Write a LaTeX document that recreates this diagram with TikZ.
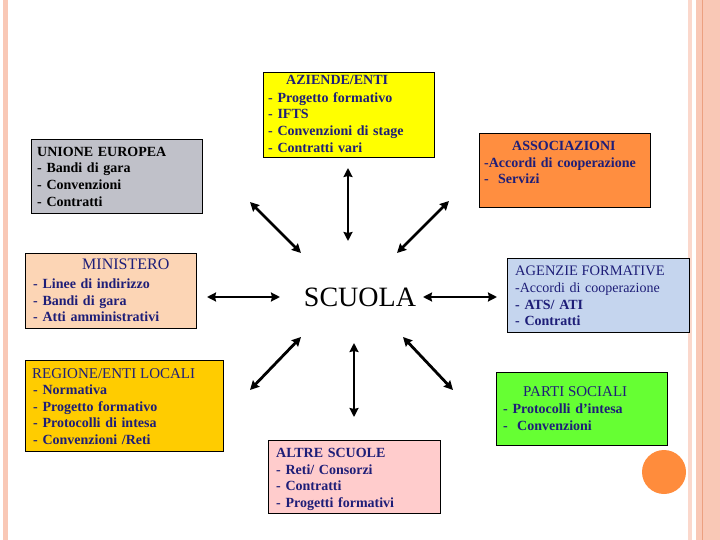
\documentclass[tikz,border=0pt]{standalone}
\usepackage{fontspec}
\setmainfont{Liberation Serif}
\usetikzlibrary{arrows.meta}

\definecolor{navy}{RGB}{30,30,120}
\definecolor{stripe}{RGB}{249,200,182}
\definecolor{stripedark}{RGB}{236,160,128}
\definecolor{ueGray}{RGB}{192,193,201}
\definecolor{minPeach}{RGB}{252,213,181}
\definecolor{aziYellow}{RGB}{255,255,0}
\definecolor{assOrange}{RGB}{255,142,64}
\definecolor{ageBlue}{RGB}{197,213,238}
\definecolor{regGold}{RGB}{255,204,0}
\definecolor{altPink}{RGB}{255,204,204}
\definecolor{parGreen}{RGB}{102,255,51}
\definecolor{dotOrange}{RGB}{255,140,60}

\begin{document}
\begin{tikzpicture}[x=1pt, y=-1pt,
    box/.style={draw=black, line width=0.8pt, anchor=north west, inner sep=0pt},
    txt/.style={anchor=north west, inner sep=0pt, align=left, text width=190pt,
        text=navy, font=\bfseries\fontsize{14}{16.8}\selectfont},
    ttl/.style={anchor=base west, inner sep=0pt, text=navy},
    link/.style={line width=2.8pt, <->, >={Stealth[length=9pt, width=9pt, inset=1pt]}}]
    \useasboundingbox (0,0) rectangle (720,540);
    \fill[white] (0,0) rectangle (720,540);
    % page border stripes
    \fill[stripe] (3,0) rectangle (8,540);
    \fill[stripe!70] (688,0) rectangle (691.5,540);
    \fill[stripe] (696,0) rectangle (720,540);
    \fill[stripedark] (701.5,0) rectangle (703,540);
    \fill[dotOrange] (664,472) circle (22);

    % boxes
    \node[box, fill=ueGray, minimum width=171, minimum height=74] (ue) at (31,139) {};
    \node[txt, text=black] (ueT) at (37,144.24) {\strut UNIONE EUROPEA\\- Bandi di gara\\- Convenzioni\\- Contratti};

    \node[box, fill=minPeach, minimum width=171, minimum height=75] (min) at (25,253) {};
    \node[ttl, font=\fontsize{16}{19}\selectfont] (minT) at (82,269) {MINISTERO};
    \node[txt] (minL) at (33,276.24) {\strut - Linee di indirizzo\\- Bandi di gara\\- Atti amministrativi};

    \node[box, fill=aziYellow, minimum width=171, minimum height=85] (azi) at (263,72) {};
    \node[ttl, font=\bfseries\fontsize{14}{16.8}\selectfont] (aziT) at (286,85) {AZIENDE/ENTI};
    \node[txt, font=\bfseries\fontsize{14}{16.7}\selectfont] (aziL) at (268,90.24) {\strut - Progetto formativo\\- IFTS\\- Convenzioni di stage\\- Contratti vari};

    \node[box, fill=assOrange, minimum width=171, minimum height=74] (ass) at (479,133) {};
    \node[ttl, font=\bfseries\fontsize{14}{16.8}\selectfont] (assT) at (512,151) {ASSOCIAZIONI};
    \node[txt] (assL) at (484,155.24) {\strut -Accordi di cooperazione\\-\ \ Servizi};

    \node[box, fill=ageBlue, minimum width=182, minimum height=74] (age) at (507,258) {};
    \node[ttl, font=\fontsize{14.5}{17}\selectfont] (ageT) at (515,275) {AGENZIE FORMATIVE};
    \node[txt] (ageL) at (515,280.24) {\strut{\mdseries -Accordi di cooperazione}\\- ATS/ ATI\\- Contratti};

    \node[box, fill=regGold, minimum width=198, minimum height=91] (reg) at (25,360) {};
    \node[ttl, font=\fontsize{15}{18}\selectfont] (regT) at (32,378) {REGIONE/ENTI LOCALI};
    \node[txt] (regL) at (33,382.24) {\strut - Normativa\\- Progetto formativo\\- Protocolli di intesa\\- Convenzioni /Reti};

    \node[box, fill=altPink, minimum width=172, minimum height=73] (alt) at (268,440) {};
    \node[txt] (altL) at (276,445.24) {\strut ALTRE SCUOLE\\- Reti/ Consorzi\\- Contratti\\- Progetti formativi};

    \node[box, fill=parGreen, minimum width=171, minimum height=73] (par) at (496,372) {};
    \node[ttl, font=\fontsize{15}{18}\selectfont] (parT) at (523,396) {PARTI SOCIALI};
    \node[txt] (parL) at (503,401.24) {\strut - Protocolli d’intesa\\-\ \ Convenzioni};

    % centre
    \node[anchor=base, inner sep=0pt, font=\fontsize{28}{32}\selectfont] (scuola) at (360,306) {SCUOLA};

    % double arrows round the centre
    \foreach \nm/\xa/\ya/\xb/\yb in {n/348/168/348/241, ne/449/201/397/253, nw/250/202/301/253,
        w/207/297/280/297, e/423/297/497/297, sw/301/337/250/390, s/354/343/354/417, se/403/337/453/390}{
        \coordinate (\nm a) at (\xa,\ya);
        \coordinate (\nm b) at (\xb,\yb);
        \draw[link] (\nm a) -- (\nm b);
    }
\end{tikzpicture}
\end{document}
